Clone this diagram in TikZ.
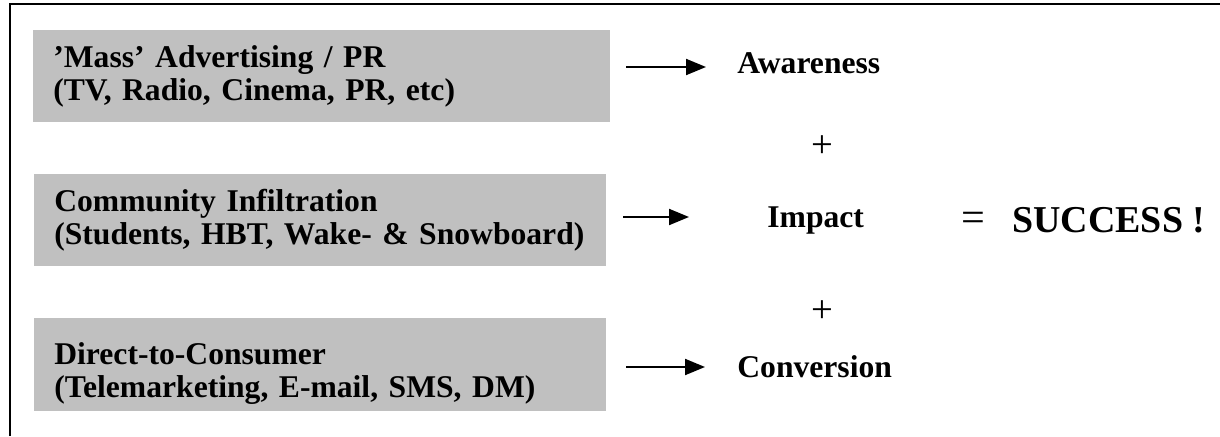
\documentclass[tikz,border=0pt]{standalone}
\usepackage{fontspec}
\setmainfont{Liberation Serif}
\usetikzlibrary{arrows.meta}
\definecolor{chancolor}{RGB}{192,192,192}

\begin{document}
\begin{tikzpicture}[x=0.02cm, y=-0.02cm,
    chan/.style={fill=chancolor, anchor=north west, minimum height=1.84cm, inner xsep=0.4cm, inner ysep=0pt, text width=#1, align=left, font=\fontsize{18}{18.8}\selectfont\bfseries},
    res/.style={inner sep=0pt, anchor=base west, font=\fontsize{18}{18.8}\selectfont\bfseries},
    plus/.style={inner sep=0pt, font=\fontsize{22}{24}\selectfont},
    flow/.style={line width=0.04cm, -{Triangle[length=0.4cm, width=0.32cm]}}]

    \useasboundingbox (0,0) rectangle (1220,436);
    \draw[line width=0.04cm] (10,436) -- (10,4) -- (1220,4);

    % the three channels
    \node[chan=10.74cm] (mass) at (33,30) {’Mass’ Advertising / PR\\(TV, Radio, Cinema, PR, etc)};
    \node[chan=10.64cm] (comm) at (34,174) {Community Infiltration\\(Students, HBT, Wake- \& Snowboard)};
    \node[chan=10.64cm, minimum height=1.86cm, text height=0.8cm] (dtc) at (34,318) {Direct-to-Consumer\\(Telemarketing, E-mail, SMS, DM)};

    % what each one gives
    \node[res] (aware) at (737,73) {Awareness};
    \node[res] (impact) at (767,227) {Impact};
    \node[res] (conv) at (737,377) {Conversion};
    \node[plus] (p1) at (822,147) {+};
    \node[plus] (p2) at (822,312) {+};

    \node[plus, font=\fontsize{24}{26}\selectfont] (eq) at (973,222) {=};
    \node[res, font=\fontsize{21.6}{26}\selectfont\bfseries] (win) at (1012,232) {SUCCESS !};

    \coordinate (f1) at (626,67);
    \coordinate (f2) at (623,217);
    \coordinate (f3) at (626,367);
    \draw[flow, shorten >=0.62cm] (f1) -- (f1 -| aware.west);
    \draw[flow, shorten >=1.56cm] (f2) -- (f2 -| impact.west);
    \draw[flow, shorten >=0.64cm] (f3) -- (f3 -| conv.west);

\end{tikzpicture}
\end{document}
